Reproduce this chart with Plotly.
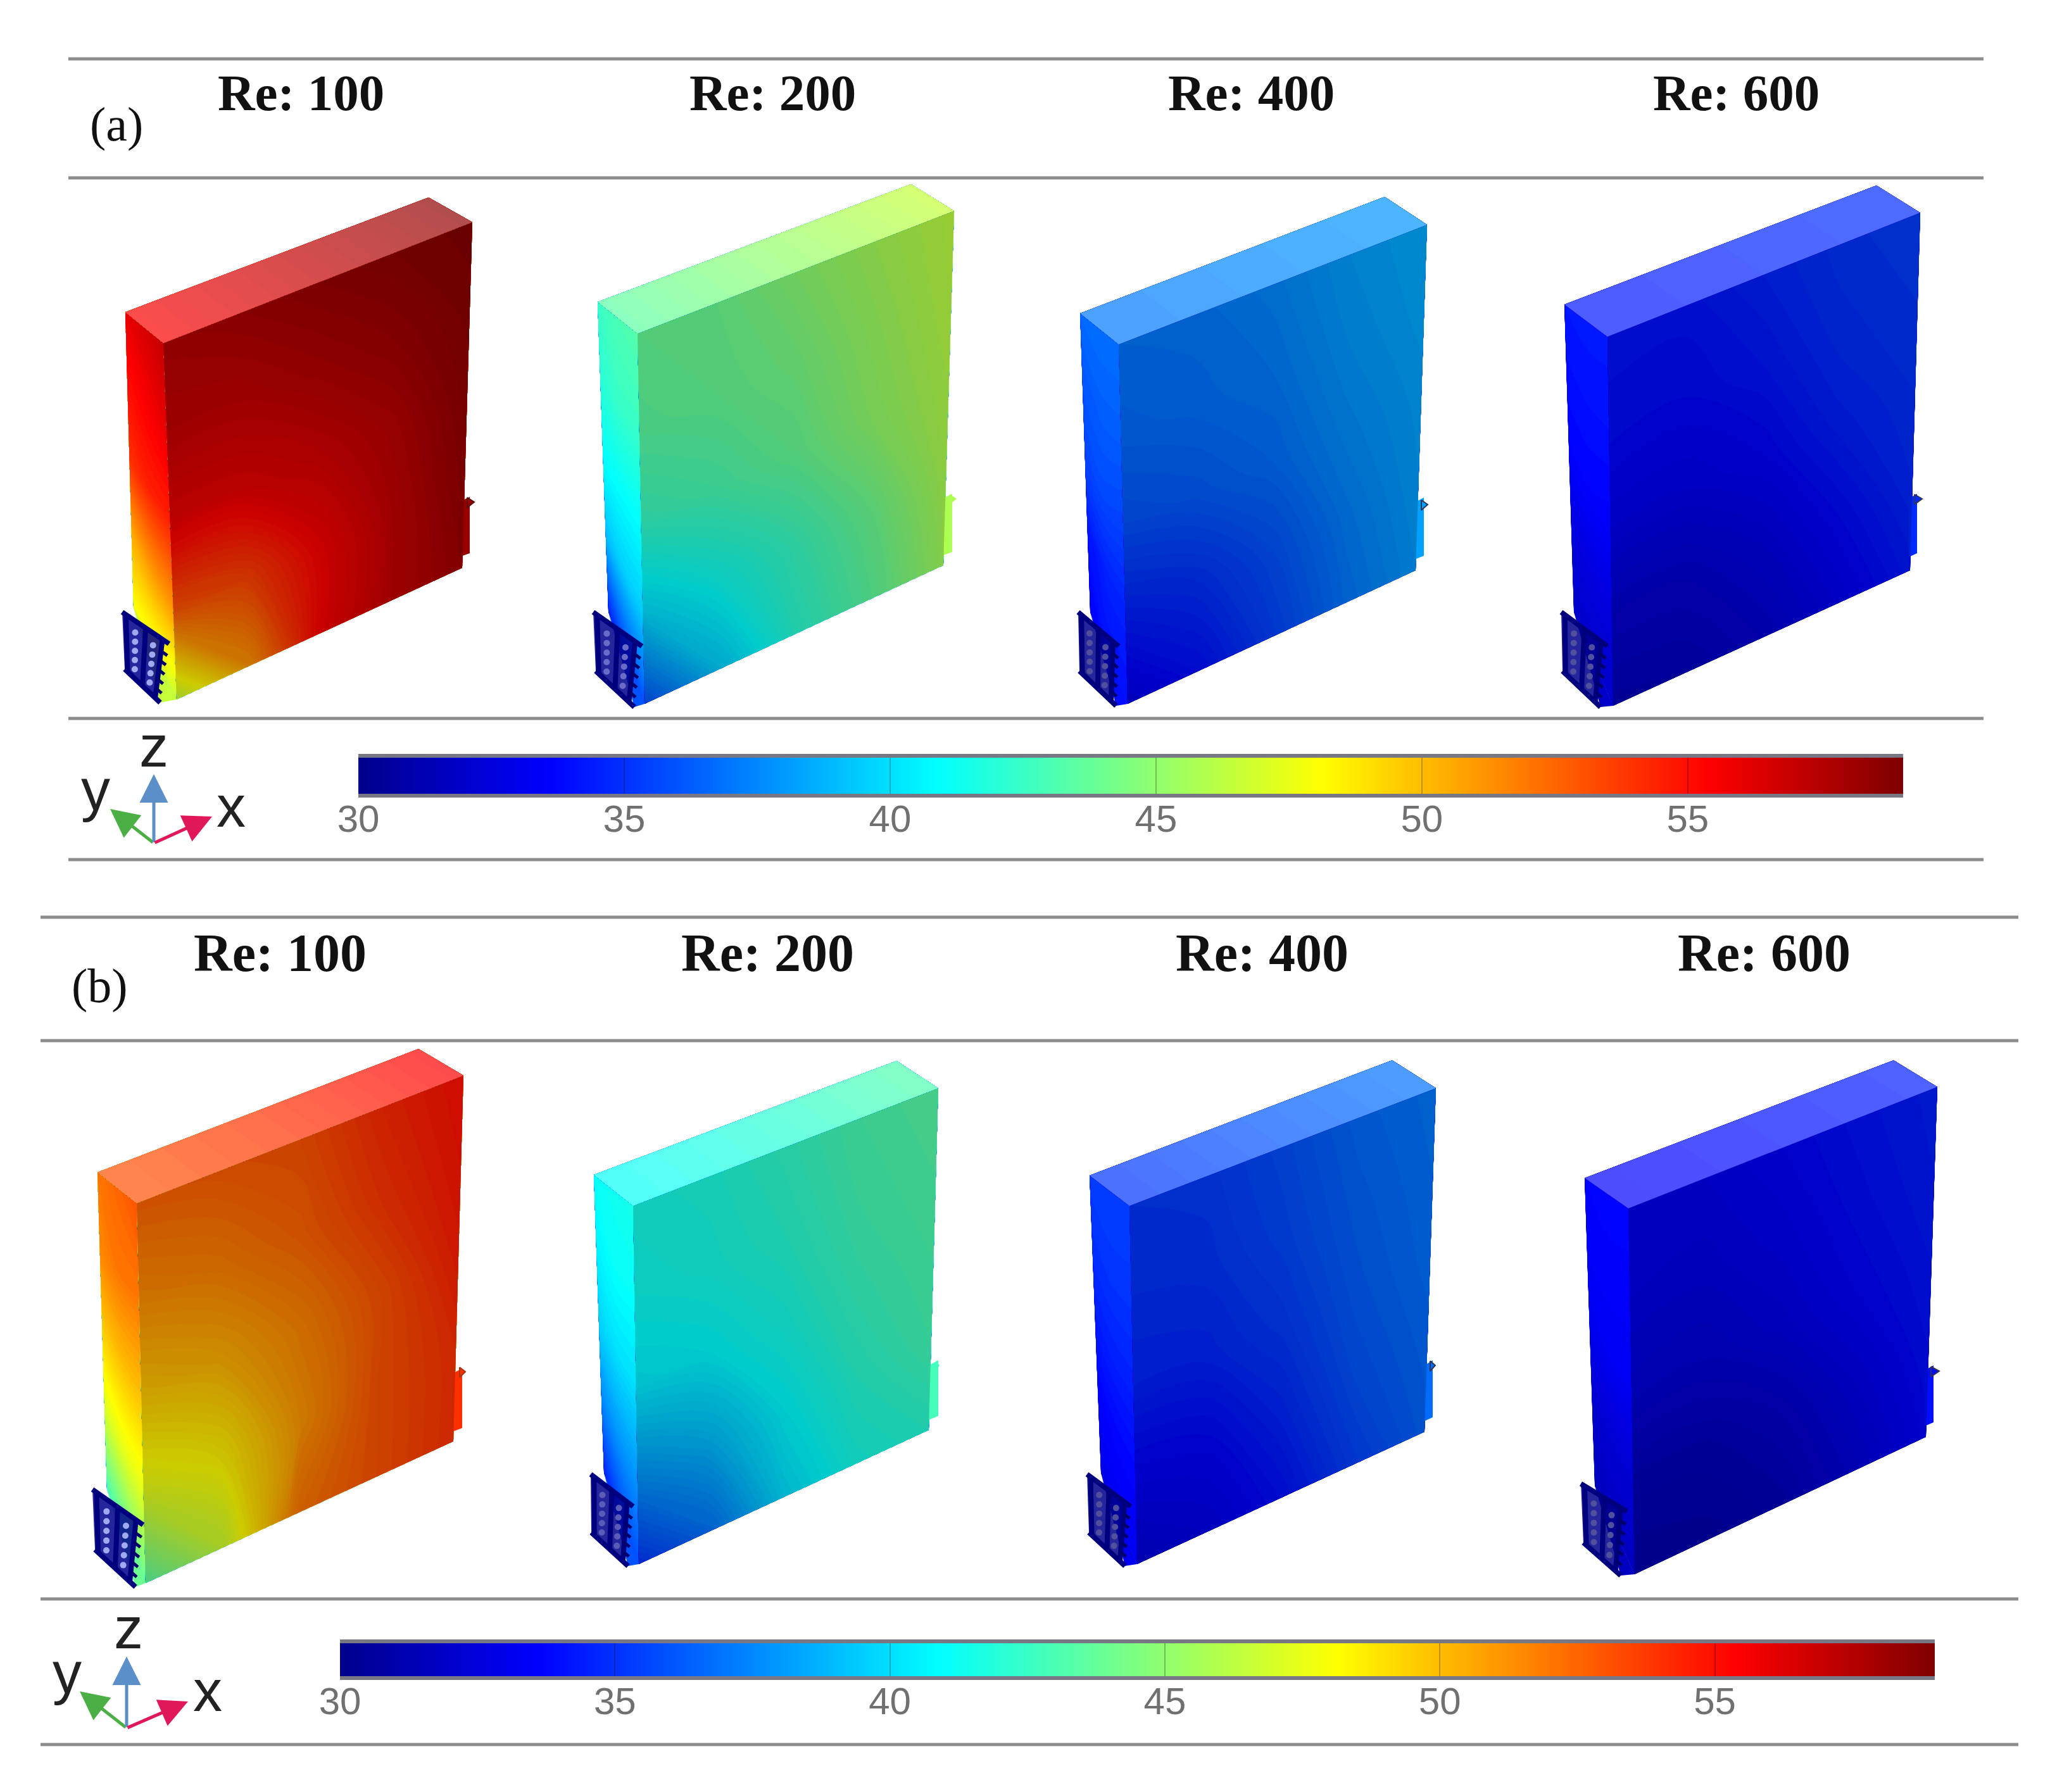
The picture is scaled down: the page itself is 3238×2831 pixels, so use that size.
import plotly.graph_objects as go
from plotly.colors import sample_colorscale

W, H = 3238, 2831
TMIN, TMAX = 30, 59

# ---------- data (temperature, deg C) ----------
RE_LABELS = ["Re: 100", "Re: 200", "Re: 400", "Re: 600"]
CBAR_TICKS = [30, 35, 40, 45, 50, 55]
CBAR_VALUES = [30, 33.625, 37.25, 40.875, 44.5, 48.125, 51.75, 55.375, 59]
JET = [[0, "#00008b"], [.125, "#0000ff"], [.375, "#00ffff"], [.625, "#ffff00"], [.875, "#ff0000"], [1, "#7f0000"]]

# front faces: rows bottom -> top, columns left -> right
FRONT_A1 = [[46.5, 51, 55.5, 57, 58], [53, 53.5, 55.5, 57, 58.3], [56, 56, 56.5, 57.3, 58.5], [57, 57, 57.5, 58, 58.7], [57.5, 57.8, 58.2, 58.6, 58.9]]
FRONT_A2 = [[36, 39.5, 42, 43.5, 45.5], [40, 41.3, 42.5, 44, 45.8], [42.5, 43, 43.8, 45, 46], [43.5, 43.8, 44.3, 45.3, 46.2], [43.8, 44, 44.8, 45.6, 46.3]]
FRONT_A3 = [[33, 34, 35.5, 37, 38], [34.5, 35, 36, 37.3, 38.2], [36, 36.3, 36.8, 37.7, 38.3], [36.7, 36.9, 37.2, 38, 38.5], [37, 37.1, 37.5, 38.2, 38.6]]
FRONT_A4 = [[31.5, 31.6, 32.2, 33.2, 34.3], [32.2, 32.2, 32.8, 33.8, 34.8], [33.3, 33.2, 33.6, 34.5, 35], [33.9, 33.8, 34.2, 34.9, 35.2], [34.1, 34.1, 34.6, 35.1, 35.4]]
FRONT_B1 = [[43.5, 46.7, 52, 53, 54], [47.5, 48.5, 51, 53, 54], [49.7, 50.3, 51.5, 53, 54.5], [51.3, 51.7, 52.5, 53.8, 54.8], [52.5, 52.7, 53, 54.2, 55]]
FRONT_B2 = [[35.2, 37, 40, 41.5, 42], [38, 39, 40.8, 42, 42.8], [40.5, 40.8, 41.5, 42.5, 43], [41.2, 41.5, 42, 42.8, 43.2], [41.5, 41.7, 42.3, 43, 43.4]]
FRONT_B3 = [[32.5, 33, 34, 35.5, 36.5], [33.5, 33.7, 34.7, 36, 36.7], [34.6, 34.7, 35.3, 36.3, 36.9], [35, 35.1, 35.7, 36.5, 37], [35.2, 35.3, 35.9, 36.7, 37.1]]
FRONT_B4 = [[31, 31.1, 31.5, 32.5, 33.7], [31.5, 31.5, 32, 33, 34], [32.5, 32.4, 32.9, 33.6, 34.2], [33, 32.9, 33.3, 33.9, 34.4], [33.2, 33.2, 33.6, 34.1, 34.5]]

# left faces: rows bottom -> top, columns back -> front
LEFT_A1 = [[48, 47.5, 46.5], [50.5, 51, 51], [54, 54.5, 54.5], [55, 55.5, 56], [56, 56.5, 57]]
LEFT_A2 = [[34.5, 35.5, 36], [39, 39.5, 39.5], [41, 41, 41], [42, 42.5, 42.5], [42.5, 43, 43.3]]
LEFT_A3 = [[33.5, 34, 34], [34, 34.5, 34.5], [35.5, 35.7, 35.5], [36, 36.3, 36.3], [36.6, 36.8, 36.8]]
LEFT_A4 = [[32, 32, 32], [32.5, 32.6, 32.6], [33.5, 33.6, 33.5], [33.9, 34, 34], [34.2, 34.3, 34.3]]
LEFT_B1 = [[43, 43.5, 44], [47, 47.5, 47.5], [49.5, 50, 50], [51.5, 52, 52], [52, 52.5, 53]]
LEFT_B2 = [[34.5, 35.5, 36], [37.5, 38, 38], [39.5, 40, 40], [40.5, 41, 41], [41, 41.3, 41.5]]
LEFT_B3 = [[33, 33.2, 33.2], [33.5, 33.7, 33.7], [34.3, 34.5, 34.5], [34.9, 35.1, 35.1], [35.3, 35.4, 35.4]]
LEFT_B4 = [[31.5, 31.7, 31.7], [32, 32.2, 32.2], [33, 33.2, 33.2], [33.4, 33.5, 33.5], [33.6, 33.7, 33.7]]

# top faces: left -> right
TOP_A1 = [55.5, 57, 58.5]
TOP_A2 = [43.5, 45, 46.5]
TOP_A3 = [37, 37.5, 38]
TOP_A4 = [34.2, 34.6, 35]
TOP_B1 = [53, 54, 55.5]
TOP_B2 = [41, 42, 43.2]
TOP_B3 = [35, 36, 37]
TOP_B4 = [33.5, 34, 34.5]

# ---------- drawing geometry (diagram layout, in image pixels) ----------
# BL back-top, FL front-top-left, FR front-top-right, BR back-top-right,
# FB front-bottom-left, RB front-bottom-right, LB left-face bottom
GEOM = {
    "A1": dict(BL=(198, 493), FL=(258, 542), FR=(746, 351), BR=(677, 312), FB=(279, 1105), RB=(730, 897), LB=(211, 960)),
    "A2": dict(BL=(944, 477), FL=(1007, 527), FR=(1507, 333), BR=(1439, 291), FB=(1018, 1112), RB=(1490, 893), LB=(961, 967)),
    "A3": dict(BL=(1706, 495), FL=(1767, 544), FR=(2254, 355), BR=(2187, 311), FB=(1781, 1112), RB=(2236, 901), LB=(1722, 967)),
    "A4": dict(BL=(2471, 481), FL=(2539, 532), FR=(3033, 336), BR=(2964, 293), FB=(2548, 1115), RB=(3017, 901), LB=(2486, 967)),
    "B1": dict(BL=(154, 1852), FL=(216, 1901), FR=(732, 1699), BR=(661, 1657), FB=(230, 2501), RB=(716, 2277), LB=(169, 2353)),
    "B2": dict(BL=(938, 1856), FL=(1000, 1905), FR=(1482, 1719), BR=(1416, 1676), FB=(1009, 2471), RB=(1467, 2259), LB=(954, 2327)),
    "B3": dict(BL=(1721, 1857), FL=(1784, 1905), FR=(2268, 1719), BR=(2199, 1675), FB=(1796, 2471), RB=(2250, 2262), LB=(1739, 2327)),
    "B4": dict(BL=(2503, 1861), FL=(2572, 1909), FR=(3060, 1717), BR=(2991, 1675), FB=(2582, 2487), RB=(3042, 2270), LB=(2519, 2347)),
}
# heat sink: top-back, top-front, bottom-front, bottom-back
SINK = {
    "A1": [(193, 967), (267, 1017), (253, 1110), (197, 1057)],
    "A2": [(937, 967), (1014, 1021), (1002, 1117), (941, 1060)],
    "A3": [(1703, 967), (1767, 1021), (1763, 1115), (1705, 1060)],
    "A4": [(2466, 967), (2539, 1021), (2528, 1117), (2468, 1060)],
    "B1": [(146, 2353), (226, 2409), (214, 2507), (150, 2448)],
    "B2": [(933, 2329), (1000, 2380), (992, 2474), (934, 2421)],
    "B3": [(1717, 2329), (1786, 2380), (1777, 2474), (1720, 2421)],
    "B4": [(2497, 2344), (2570, 2388), (2560, 2489), (2501, 2437)],
}
HOLE = {"A1": "#a0aaf0", "A2": "#6a6cc8", "A3": "#50509c", "A4": "#50509c",
        "B1": "#a0aaf0", "B2": "#5a5cb8", "B3": "#50509c", "B4": "#50509c"}
# outlet stub: x0, x1, y0, y1, tip x, tip y
STUB = {
    "A1": (725, 742, 785, 880, 749, 793), "A2": (1488, 1504, 780, 878, 1511, 788),
    "A3": (2234, 2249, 786, 884, 2255, 797), "A4": (3015, 3028, 780, 880, 3036, 788),
    "B1": (714, 730, 2162, 2262, 735, 2167), "B2": (1467, 1482, 2149, 2243, 1484, 2157),
    "B3": (2250, 2263, 2149, 2245, 2267, 2157), "B4": (3040, 3054, 2157, 2253, 3063, 2166),
}
TIP_EDGE = {"A1": "#551111", "A2": None, "A3": "#333355", "A4": "#333355",
            "B1": "#aa3311", "B2": None, "B3": "#333355", "B4": "#333355"}

FRONT = dict(A1=FRONT_A1, A2=FRONT_A2, A3=FRONT_A3, A4=FRONT_A4, B1=FRONT_B1, B2=FRONT_B2, B3=FRONT_B3, B4=FRONT_B4)
LEFT = dict(A1=LEFT_A1, A2=LEFT_A2, A3=LEFT_A3, A4=LEFT_A4, B1=LEFT_B1, B2=LEFT_B2, B3=LEFT_B3, B4=LEFT_B4)
TOP = dict(A1=TOP_A1, A2=TOP_A2, A3=TOP_A3, A4=TOP_A4, B1=TOP_B1, B2=TOP_B2, B3=TOP_B3, B4=TOP_B4)


def lerp(p00, p10, p11, p01, u, v):
    """Bilinear position on a quad (p00 u0v0, p10 u1v0, p11 u1v1, p01 u0v1)."""
    x = (1 - u) * (1 - v) * p00[0] + u * (1 - v) * p10[0] + u * v * p11[0] + (1 - u) * v * p01[0]
    y = (1 - u) * (1 - v) * p00[1] + u * (1 - v) * p10[1] + u * v * p11[1] + (1 - u) * v * p01[1]
    return x, y


def color_of(t):
    return sample_colorscale(JET, [(t - TMIN) / (TMAX - TMIN)])[0]


fig = go.Figure()
count = [0]


def face(p00, p10, p11, p01, z):
    rows, cols = len(z), len(z[0])
    a = [i / (cols - 1) for i in range(cols)]
    b = [j / (rows - 1) for j in range(rows)]
    xs, ys = [], []
    for v in b:
        pts = [lerp(p00, p10, p11, p01, u, v) for u in a]
        xs.append([p[0] for p in pts])
        ys.append([p[1] for p in pts])
    count[0] += 1
    cid = f"c{count[0]}"
    axis = dict(showgrid=False, showline=False, showticklabels="none", startline=False, endline=False,
                minorgridcount=0, smoothing=0, tickmode="array", tickvals=[])
    fig.add_trace(go.Carpet(a=a, b=b, x=xs, y=ys, carpet=cid, aaxis=axis, baxis=axis))
    fig.add_trace(go.Contourcarpet(a=a, b=b, z=z, carpet=cid, colorscale=JET, zmin=TMIN, zmax=TMAX, zauto=False,
                                   autocontour=False, contours=dict(start=TMIN, end=TMAX, size=0.2, coloring="fill", showlines=False),
                                   line=dict(width=0), showscale=False))


def poly(points, fill, line=None, width=0):
    xs = [p[0] for p in points] + [points[0][0]]
    ys = [p[1] for p in points] + [points[0][1]]
    fig.add_trace(go.Scatter(x=xs, y=ys, mode="lines", fill="toself", fillcolor=fill,
                             line=dict(color=line or "rgba(0,0,0,0)", width=width), hoverinfo="skip", showlegend=False))


for key, g in GEOM.items():
    # outlet stub sits behind the block
    x0, x1, y0, y1, tx, ty = STUB[key]
    right = FRONT[key][1][-1]
    stub_col = color_of(right)
    poly([(x0, y0 + 8), (x1, y0), (x1, y1 - 6), (x0, y1)], stub_col)
    poly([(x1 - 4, ty - 7), (tx, ty), (x1 - 4, ty + 9)], stub_col, TIP_EDGE[key], 2 if TIP_EDGE[key] else 0)

    face(g["LB"], g["FB"], g["FL"], g["BL"], LEFT[key])
    face(g["FB"], g["RB"], g["FR"], g["FL"], FRONT[key])
    face(g["FL"], g["FR"], g["BR"], g["BL"], [TOP[key], TOP[key]])
    # shading of the render: front face dimmer, top face brighter
    poly([g["FB"], g["RB"], g["FR"], g["FL"]], "rgba(0,0,0,0.2)")
    poly([g["FL"], g["FR"], g["BR"], g["BL"]], "rgba(255,255,255,0.3)")

    # heat sink: plates with rows of fins; the fin ends stick out at the front
    q = SINK[key]
    on = lambda u, v: lerp(q[0], q[1], q[2], q[3], u, v)
    # the foot of the left face, behind the sink
    poly([g["LB"], g["FB"], q[2]], color_of(LEFT[key][0][2]))
    poly([on(0, 0), on(0.86, 0), on(0.86, 1), on(0, 1)], "rgba(0,0,139,0.85)")
    sx, sy = [], []
    for u in (0.08, 0.5, 0.86):
        for v in (0, 1):
            p = on(u, v)
            sx.append(p[0]); sy.append(p[1])
        sx.append(None); sy.append(None)
    for v in (0, 1):
        for u in (0, 1):
            p = on(u, v)
            sx.append(p[0]); sy.append(p[1])
        sx.append(None); sy.append(None)
    fig.add_trace(go.Scatter(x=sx, y=sy, mode="lines", line=dict(color="#00007f", width=8), hoverinfo="skip", showlegend=False))
    fx, fy = [], []
    for v in (0.2, 0.36, 0.52, 0.68, 0.84):
        for u in (0.86, 1.0):
            p = on(u, v)
            fx.append(p[0]); fy.append(p[1])
        fx.append(None); fy.append(None)
    fig.add_trace(go.Scatter(x=fx, y=fy, mode="lines", line=dict(color="#00006a", width=5), hoverinfo="skip", showlegend=False))
    hx, hy = [], []
    for u in (0.28, 0.68):
        for v in (0.2, 0.36, 0.52, 0.68, 0.84):
            p = on(u, v)
            hx.append(p[0]); hy.append(p[1])
    fig.add_trace(go.Scatter(x=hx, y=hy, mode="markers", marker=dict(color=HOLE[key], size=10, line=dict(width=0)),
                             hoverinfo="skip", showlegend=False))

# colour bars on their own axes
vals = CBAR_VALUES
for i, (x0, x1, y0, y1, end) in enumerate([(566, 3006, 1197, 1254, 59.05), (537, 3056, 2596, 2648, 59.0)]):
    n = i + 2
    fig.add_trace(go.Heatmap(x=vals, y=[0, 1], z=[vals, vals], colorscale=JET, zmin=TMIN, zmax=TMAX, zsmooth="best",
                             showscale=False, hoverinfo="skip", xaxis=f"x{n}", yaxis=f"y{n}"))
    ax = dict(domain=[x0 / W, x1 / W], range=[30, end], tickmode="array", tickvals=CBAR_TICKS, ticks="inside",
              ticklen=y1 - y0, tickwidth=2, tickcolor="rgba(0,0,0,0.25)", showgrid=False, zeroline=False,
              showline=True, mirror=True, linecolor="rgba(30,30,50,0.6)", linewidth=6, automargin=False,
              tickfont=dict(family="Liberation Sans", size=60, color="#707070"), ticklabelstandoff=-18,
              anchor=f"y{n}", ticklabelposition="outside")
    ay = dict(domain=[1 - y1 / H, 1 - y0 / H], range=[0, 1], visible=False, anchor=f"x{n}", automargin=False)
    fig.update_layout(**{f"xaxis{n}": ax, f"yaxis{n}": ay})

# rules
shapes = []
for y, x0, x1 in [(93, 108, 3133), (281, 108, 3133), (1135, 108, 3133), (1358, 108, 3133),
                  (1449, 64, 3188), (1644, 64, 3188), (2526, 64, 3188), (2756, 64, 3188)]:
    shapes.append(dict(type="line", xref="x", yref="y", x0=x0, x1=x1, y0=y, y1=y, line=dict(color="#8c8c8c", width=5)))

ann = []
for label, x in zip(RE_LABELS, [475, 1220, 1976, 2742]):
    ann.append(dict(x=x, y=147, text=f"<b>{label}</b>", font=dict(family="Liberation Serif", size=81, color="#111111")))
for label, x in zip(RE_LABELS, [442, 1212, 1993, 2786]):
    ann.append(dict(x=x, y=1505, text=f"<b>{label}</b>", font=dict(family="Liberation Serif", size=84, color="#111111")))
ann.append(dict(x=184, y=196, text="(a)", font=dict(family="Liberation Serif", size=76, color="#111111")))
ann.append(dict(x=157, y=1557, text="(b)", font=dict(family="Liberation Serif", size=76, color="#111111")))

# coordinate triads
for (o, ztip, ytip, xtip, zl, yl, xl) in [
    ((243, 1332), (243, 1223), (174, 1278), (335, 1290), (243, 1179), (151, 1248), (365, 1274)),
    ((200, 2730), (200, 2617), (126, 2672), (297, 2688), (203, 2572), (106, 2643), (328, 2671)),
]:
    for tip, col in [(ytip, "#4caf45"), (ztip, "#5b8fc7"), (xtip, "#e0185a")]:
        ann.append(dict(x=tip[0], y=tip[1], ax=o[0], ay=o[1], axref="x", ayref="y", text="", showarrow=True,
                        arrowhead=2, arrowsize=1.8, arrowwidth=5, arrowcolor=col))
    for pos, t in [(zl, "z"), (yl, "y"), (xl, "x")]:
        ann.append(dict(x=pos[0], y=pos[1], text=t, font=dict(family="Liberation Sans", size=92, color="#222222")))
for a in ann:
    a.setdefault("xref", "x")
    a.setdefault("yref", "y")
    a.setdefault("showarrow", False)

fig.update_layout(
    template="none",
    width=W, height=H, autosize=False, margin=dict(l=0, r=0, t=0, b=0, pad=0), paper_bgcolor="white", plot_bgcolor="rgba(0,0,0,0)",
    showlegend=False, shapes=shapes, annotations=ann,
    xaxis=dict(domain=[0, 1], range=[0, W], visible=False, fixedrange=True, automargin=False),
    yaxis=dict(domain=[0, 1], range=[H, 0], visible=False, fixedrange=True, automargin=False),
)
fig.write_html("out.html", config={"displayModeBar": False}, post_script="document.body.style.margin='0';")
